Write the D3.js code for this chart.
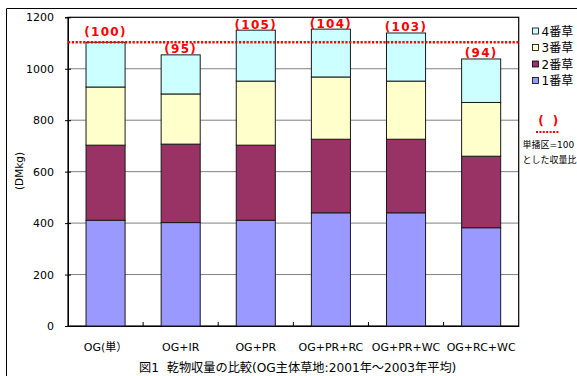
<!DOCTYPE html>
<html><head><meta charset="utf-8">
<script src="https://cdn.jsdelivr.net/npm/d3@7"></script>
<style>
html,body{margin:0;padding:0;background:#fff;}
svg{display:block;}
</style></head>
<body><svg id="c" width="577" height="376"></svg>
<script>
const categories = ["OG(単）","OG+IR","OG+PR","OG+PR+RC","OG+PR+WC","OG+RC+WC"];
const cut1 = [411, 402, 411, 440, 440, 382];
const cut2 = [292, 305, 292, 286, 286, 278];
const cut3 = [226, 195, 249, 242, 226, 209];
const cut4 = [174, 152, 198, 186, 187, 169];
const ratioLabels = ["(100)","(95)","(105)","(104)","(103)","(94)"];
const seriesNames = ["1番草","2番草","3番草","4番草"];
const seriesColors = ["#9999FF","#993366","#FFFFCC","#CCFFFF"];
const yTicks = [0,200,400,600,800,1000,1200];
const referenceValue = 1103;
const yTitle = "(DMkg)";
const chartTitle = "図1\u00a0\u00a0乾物収量の比較(OG主体草地:2001年～2003年平均)";
const noteLines = ["単播区=100","とした収量比"];

const FONT = '"DejaVu Sans","Noto Sans CJK JP",sans-serif';
const svg = d3.select("#c");
const L = 68, T = 17.3, R = 518.7, B = 326;

// outer frame
svg.append("line").attr("x1",6.5).attr("x2",577).attr("y1",8.5).attr("y2",8.5).attr("stroke","#000");
svg.append("line").attr("x1",6.5).attr("x2",6.5).attr("y1",8.5).attr("y2",376).attr("stroke","#000");

const x = d3.scaleBand().domain(categories).range([L,R]).paddingInner(0.48).paddingOuter(0.24);
const y = d3.scaleLinear().domain([0,1200]).range([B,T]);

// gridlines
svg.append("g").selectAll("line").data(yTicks.filter(v=>v>0 && v<1200)).join("line")
  .attr("x1",L).attr("x2",R).attr("y1",d=>y(d)).attr("y2",d=>y(d))
  .attr("stroke","#808080").attr("stroke-width",1);

// plot border
svg.append("rect").attr("x",L).attr("y",T).attr("width",R-L).attr("height",B-T)
  .attr("fill","none").attr("stroke","#000").attr("stroke-width",1.2);

// y axis
const yAxis = d3.axisLeft(y).tickValues(yTicks).tickFormat(d3.format("d")).tickSize(3).tickPadding(11);
const gy = svg.append("g").attr("transform",`translate(${L},0)`).call(yAxis);
gy.select(".domain").attr("stroke","#000");
gy.selectAll(".tick line").attr("stroke","#000").attr("x2",-3).attr("x1",3);
gy.selectAll(".tick text").attr("font-size",11).attr("fill","#000").style("font-family",FONT);

// x axis
const xAxis = d3.axisBottom(x).tickSize(0).tickPadding(17);
const gx = svg.append("g").attr("transform",`translate(0,${B})`).call(xAxis);
gx.select(".domain").attr("stroke","#000");
gx.selectAll(".tick text").attr("font-size",11).attr("fill","#000").style("font-family",FONT);
// category boundary ticks (inside)
const step = x.step();
svg.append("g").selectAll("line").data(d3.range(1,categories.length)).join("line")
  .attr("x1",d=>L+d*step).attr("x2",d=>L+d*step).attr("y1",B-4).attr("y2",B)
  .attr("stroke","#000").attr("stroke-width",1);

// stacked bars
const rows = categories.map((c,i)=>({cat:c, s0:cut1[i], s1:cut2[i], s2:cut3[i], s3:cut4[i]}));
const stack = d3.stack().keys(["s0","s1","s2","s3"]);
const layers = stack(rows);
svg.append("g").selectAll("g").data(layers).join("g")
  .attr("fill",(d,i)=>seriesColors[i])
  .selectAll("rect").data(d=>d).join("rect")
  .attr("x",d=>x(d.data.cat)).attr("width",x.bandwidth())
  .attr("y",d=>y(d[1])).attr("height",d=>y(d[0])-y(d[1]))
  .attr("stroke","#1a1a1a").attr("stroke-width",1);

// reference dotted line
svg.append("line").attr("x1",L).attr("x2",R).attr("y1",y(referenceValue)).attr("y2",y(referenceValue))
  .attr("stroke","#FF0000").attr("stroke-width",2.4).attr("stroke-dasharray","2.2,1.6");

// ratio labels
const totals = categories.map((c,i)=>cut1[i]+cut2[i]+cut3[i]+cut4[i]);
svg.append("g").selectAll("text").data(categories).join("text")
  .attr("x",d=>x(d)+x.bandwidth()/2)
  .attr("y",(d,i)=>y(totals[i]) - (Math.abs(totals[i]-referenceValue)<3 ? 6.5 : 1.5))
  .attr("text-anchor","middle").attr("font-size",12).attr("font-weight","bold")
  .attr("letter-spacing",1.3).attr("fill","#FF0000").style("font-family",FONT)
  .text((d,i)=>ratioLabels[i]);

// y title
svg.append("text").attr("transform","translate(23,171) rotate(-90)")
  .attr("text-anchor","middle").attr("font-size",10.5).attr("fill","#000").style("font-family",FONT).text(yTitle);

// chart title
svg.append("text").attr("x",139).attr("y",372).attr("font-size",12.2).attr("fill","#000").style("font-family",FONT).text(chartTitle);

// legend
const legendOrder = [3,2,1,0];
const ly = [31,47.5,64,80.5];
const lg = svg.append("g");
legendOrder.forEach((si,k)=>{
  lg.append("rect").attr("x",532.5).attr("y",ly[k]-3).attr("width",6).attr("height",6)
    .attr("fill",seriesColors[si]).attr("stroke","#000").attr("stroke-width",0.8);
  lg.append("text").attr("x",541.5).attr("y",ly[k]+4.5).attr("font-size",12).attr("fill","#000").style("font-family",FONT).text(seriesNames[si]);
});
// note
lg.append("text").attr("x",541).attr("y",124.5).attr("text-anchor","middle").attr("font-size",12).attr("font-weight","bold").attr("fill","#FF0000").style("font-family",FONT).text("(");
lg.append("text").attr("x",555.5).attr("y",124.5).attr("text-anchor","middle").attr("font-size",12).attr("font-weight","bold").attr("fill","#FF0000").style("font-family",FONT).text(")");
lg.append("line").attr("x1",536).attr("x2",559).attr("y1",132).attr("y2",132)
  .attr("stroke","#FF0000").attr("stroke-width",2).attr("stroke-dasharray","2,1.4");
noteLines.forEach((t,k)=>{
  lg.append("text").attr("x",522.5).attr("y",148+k*14.5).attr("font-size",9).attr("fill","#000").style("font-family",FONT).text(t);
});
</script></body></html>
